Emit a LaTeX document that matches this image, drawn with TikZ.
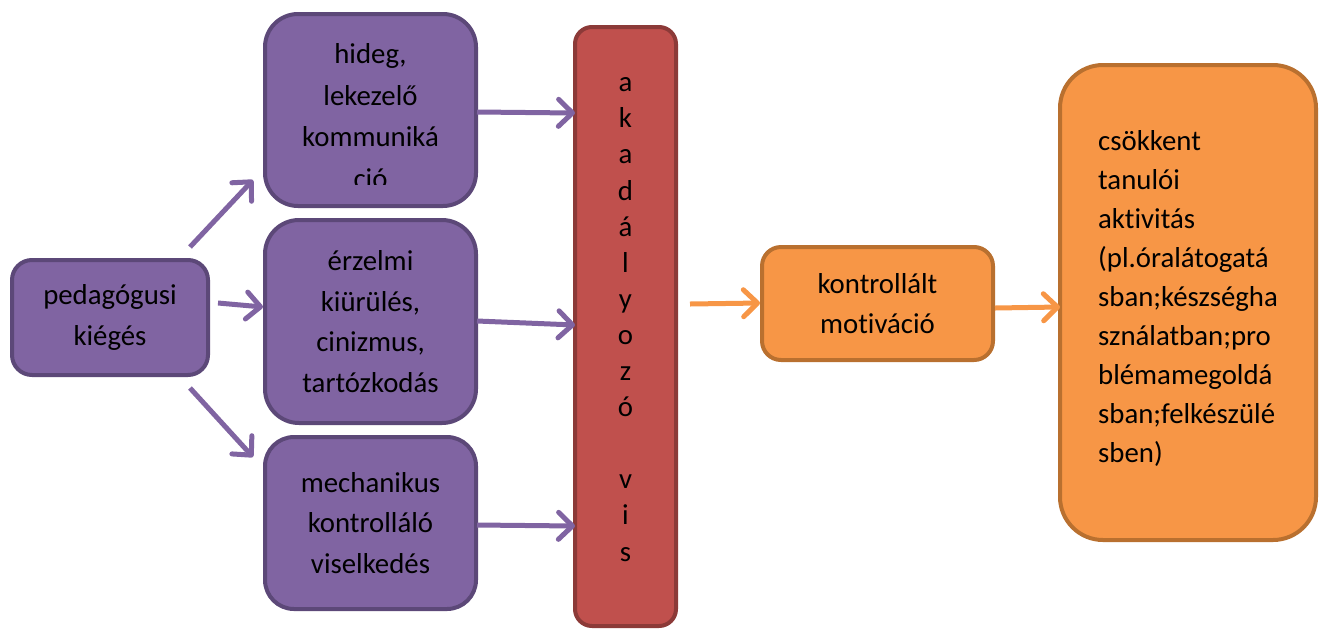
\documentclass[tikz,border=0pt]{standalone}
\usepackage{fontspec}
\setmainfont{Carlito}[Ligatures=NoCommon]
\usetikzlibrary{arrows.meta}
\definecolor{purpfill}{HTML}{8064A2}
\definecolor{purpline}{HTML}{5C4878}
\definecolor{redfill}{HTML}{C0504D}
\definecolor{redline}{HTML}{8C3A38}
\definecolor{orfill}{HTML}{F79646}
\definecolor{orline}{HTML}{B9702F}
\begin{document}
\begin{tikzpicture}[x=1pt,y=-1pt,
  box/.style={draw, line width=4pt, inner sep=0pt, align=center,
    font=\fontsize{28.8}{40.5}\selectfont},
  pbox/.style={box, fill=purpfill, draw=purpline},
  rbox/.style={box, fill=redfill, draw=redline},
  obox/.style={box, fill=orfill, draw=orline},
  link/.style={line width=5pt, -{Straight Barb[length=14pt,width=27pt,round]}},
  plink/.style={link, draw=purpfill},
  olink/.style={link, draw=orfill}]
\useasboundingbox (0,0) rectangle (1325,630);

% left column
\node[pbox, minimum width=196pt, minimum height=115pt, rounded corners=20pt]
  (ped) at (110,317.5) {pedagógusi\\kiégés};
\node[pbox, minimum width=211pt, minimum height=192pt, rounded corners=33pt]
  (hideg) at (370.5,110) {};
\begin{scope}
  \clip (263,12) rectangle (478,184);
  \node[align=center, inner sep=0pt, font=\fontsize{28.8}{41.5}\selectfont]
    (hidegtxt) at ([yshift=-6pt]hideg.center) {hideg,\\lekezelő\\kommuniká\\ció};
\end{scope}
\node[pbox, minimum width=211pt, minimum height=203pt, rounded corners=34pt]
  (erz) at (370.5,321.5) {érzelmi\\kiürülés,\\cinizmus,\\tartózkodás};
\node[pbox, minimum width=211pt, minimum height=172pt, rounded corners=29pt]
  (mech) at (370.5,523) {mechanikus\\kontrolláló\\viselkedés};

% vertical bar
\node[rbox, minimum width=101pt, minimum height=599pt, rounded corners=17pt]
  (bar) at (625.5,326.5) {};
\node[align=center, inner sep=0pt, font=\fontsize{28.8}{36.1}\selectfont]
  (bartxt) at ([yshift=7pt]bar.center)
  {a\\k\\a\\d\\á\\l\\y\\o\\z\\ó\\~\\v\\i\\s};

% right part
\node[obox, minimum width=231pt, minimum height=113pt, rounded corners=19pt]
  (kon) at (877.5,303.5) {kontrollált\\motiváció};
\node[obox, minimum width=256pt, minimum height=475pt, rounded corners=43pt]
  (big) at (1188,302.5) {};
\node[align=left, inner sep=0pt, font=\fontsize{28.8}{39}\selectfont]
  (bigtxt) at ([yshift=4pt]big.center)
  {csökkent\\tanulói\\aktivitás\\(pl.óralátogatá\\sban;készségha\\sználatban;pro\\blémamegoldá\\sban;felkészülé\\sben)};

% connectors
\draw[plink] ([shift={(-20,-11)}]ped.north east) -- ([shift={(-10,-28)}]hideg.south west);
\draw[plink] ([shift={(8,-14.5)}]ped.east) -- ([shift={(0,-14.5)}]erz.west);
\draw[plink] ([shift={(-20,11)}]ped.south east) -- ([shift={(-10,22)}]mech.north west);
\draw[plink] ([shift={(-1,2)}]hideg.east) -- ([shift={(2,-213.5)}]bar.west);
\draw[plink] ([shift={(-1,-0.5)}]erz.east) -- ([shift={(2,-1.5)}]bar.west);
\draw[plink] ([shift={(-1,2)}]mech.east) -- ([shift={(2,199.5)}]bar.west);
\draw[olink] ([shift={(12,-22.5)}]bar.east) -- ([shift={(0,-0.5)}]kon.west);
\draw[olink] ([shift={(0,4.5)}]kon.east) -- ([shift={(2,4.5)}]big.west);
\end{tikzpicture}
\end{document}
